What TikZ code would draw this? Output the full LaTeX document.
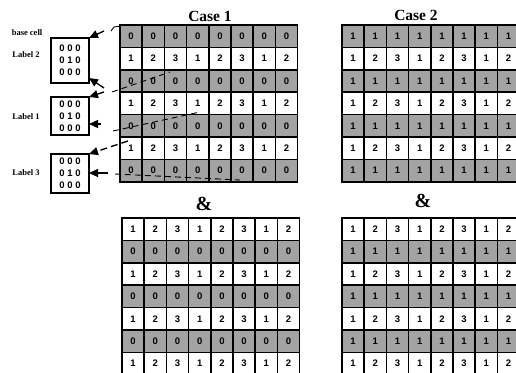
\documentclass[tikz,border=0pt]{standalone}
\usepackage{fontspec}
\setmainfont{Liberation Serif}
\setsansfont{Liberation Sans}
\usetikzlibrary{arrows.meta,positioning}

\tikzset{
  cell/.style={draw, line width=1.5pt, minimum width=22.2pt, minimum height=22.4pt,
    inner sep=0pt, outer sep=0pt, font=\sffamily\bfseries\fontsize{9.5}{9.5}\selectfont},
  shadecell/.style={cell, fill=black!36},
  basebox/.style={draw, line width=1.2pt, minimum width=38pt, inner sep=0pt, outer sep=0pt,
    align=center, font=\sffamily\bfseries\fontsize{9.5}{12}\selectfont},
  lbl/.style={font=\bfseries\fontsize{8.5}{9}\selectfont},
  ttl/.style={font=\bfseries\fontsize{15.5}{16}\selectfont, anchor=base},
  amp/.style={font=\bfseries\fontsize{20}{20}\selectfont, anchor=base},
  ptr/.style={-{Triangle[length=9pt,width=8pt]}, line width=1.3pt},
  trace/.style={line width=0.9pt, dash pattern=on 6pt off 4pt},
}

% #1 名前, #2 左端x, #3 上端y, #4 灰色の行の偶奇, #5 灰色の行の数字
\newcommand{\latgrid}[5]{%
  \foreach \r in {1,...,7}{
    \foreach \c in {1,...,8}{
      \pgfmathtruncatemacro\v{mod(\c-1,3)+1}
      \pgfmathtruncatemacro\s{mod(\r+#4,2)}
      \ifnum\s=1
        \node[shadecell] (#1-\r-\c) at ({#2+22.2*(\c-0.5)},{#3+22.4*(\r-0.5)}) {#5};
      \else
        \node[cell] (#1-\r-\c) at ({#2+22.2*(\c-0.5)},{#3+22.4*(\r-0.5)}) {\v};
      \fi
    }
  }
}

\begin{document}
\begin{tikzpicture}[x=1pt,y=-1pt]
  \useasboundingbox (0,0) rectangle (516,372); % 画像の大きさ

  \node[ttl] (case1) at (210,21) {Case 1}; % 左の見出し
  \node[ttl] (case2) at (416,20) {Case 2}; % 右の見出し

  \latgrid{ua}{120}{25}{0}{0} % Case 1 上の格子
  \latgrid{la}{122}{218}{1}{0} % Case 1 下の格子
  \latgrid{ub}{342}{25}{0}{1} % Case 2 上の格子
  \latgrid{lb}{342}{218}{1}{1} % Case 2 下の格子

  \node[amp] (and1) at (204,210) {\&}; % Case 1 の「&」
  \node[amp] (and2) at (423,207) {\&}; % Case 2 の「&」

  \node[lbl] (base) at (27,33) {base cell};
  \node[lbl] (lab2) at (26,55) {Label 2};
  \node[lbl] (lab1) at (26,117) {Label 1};
  \node[lbl] (lab3) at (26,173) {Label 3};

  \node[basebox, minimum height=45pt] (cell2) at (70,60.5) {0 0 0\\0 1 0\\0 0 0}; % Label 2 の基本セル
  \node[basebox, minimum height=38pt] (cell1) at (70,116) {0 0 0\\0 1 0\\0 0 0}; % Label 1 の基本セル
  \node[basebox, minimum height=39pt] (cell3) at (70,173.5) {0 0 0\\0 1 0\\0 0 0}; % Label 3 の基本セル

  \coordinate (p1) at (104,31);
  \coordinate (p2) at (104,88);
  \coordinate (p3) at (104,92);
  \coordinate (p4) at (101,124);
  \coordinate (p5) at (128,141);
  \coordinate (p6) at (108,173);
  \draw[ptr] (p1) -- (cell2.north east);
  \draw[ptr] (p2) -- ([yshift=5pt]cell2.south east);
  \draw[ptr] (p3) -- (cell1.north east);
  \draw[ptr] (p4) -- (p4 -| cell1.east);
  \draw[ptr, dash pattern=on 7pt off 4pt] (p5) -- (cell3.north east);
  \draw[ptr] (p6) -- (p6 -| cell3.east);

  \draw[line width=0.9pt] (111,31) -- (114,27) -- (121,26); % 格子の左上の印
  \draw[trace] (112,92) -- (170,72); % 格子の上の手書きの線
  \draw[trace] (113,131) -- (200,112);
  \draw[trace] (115,174) -- (240,180);
\end{tikzpicture}
\end{document}
